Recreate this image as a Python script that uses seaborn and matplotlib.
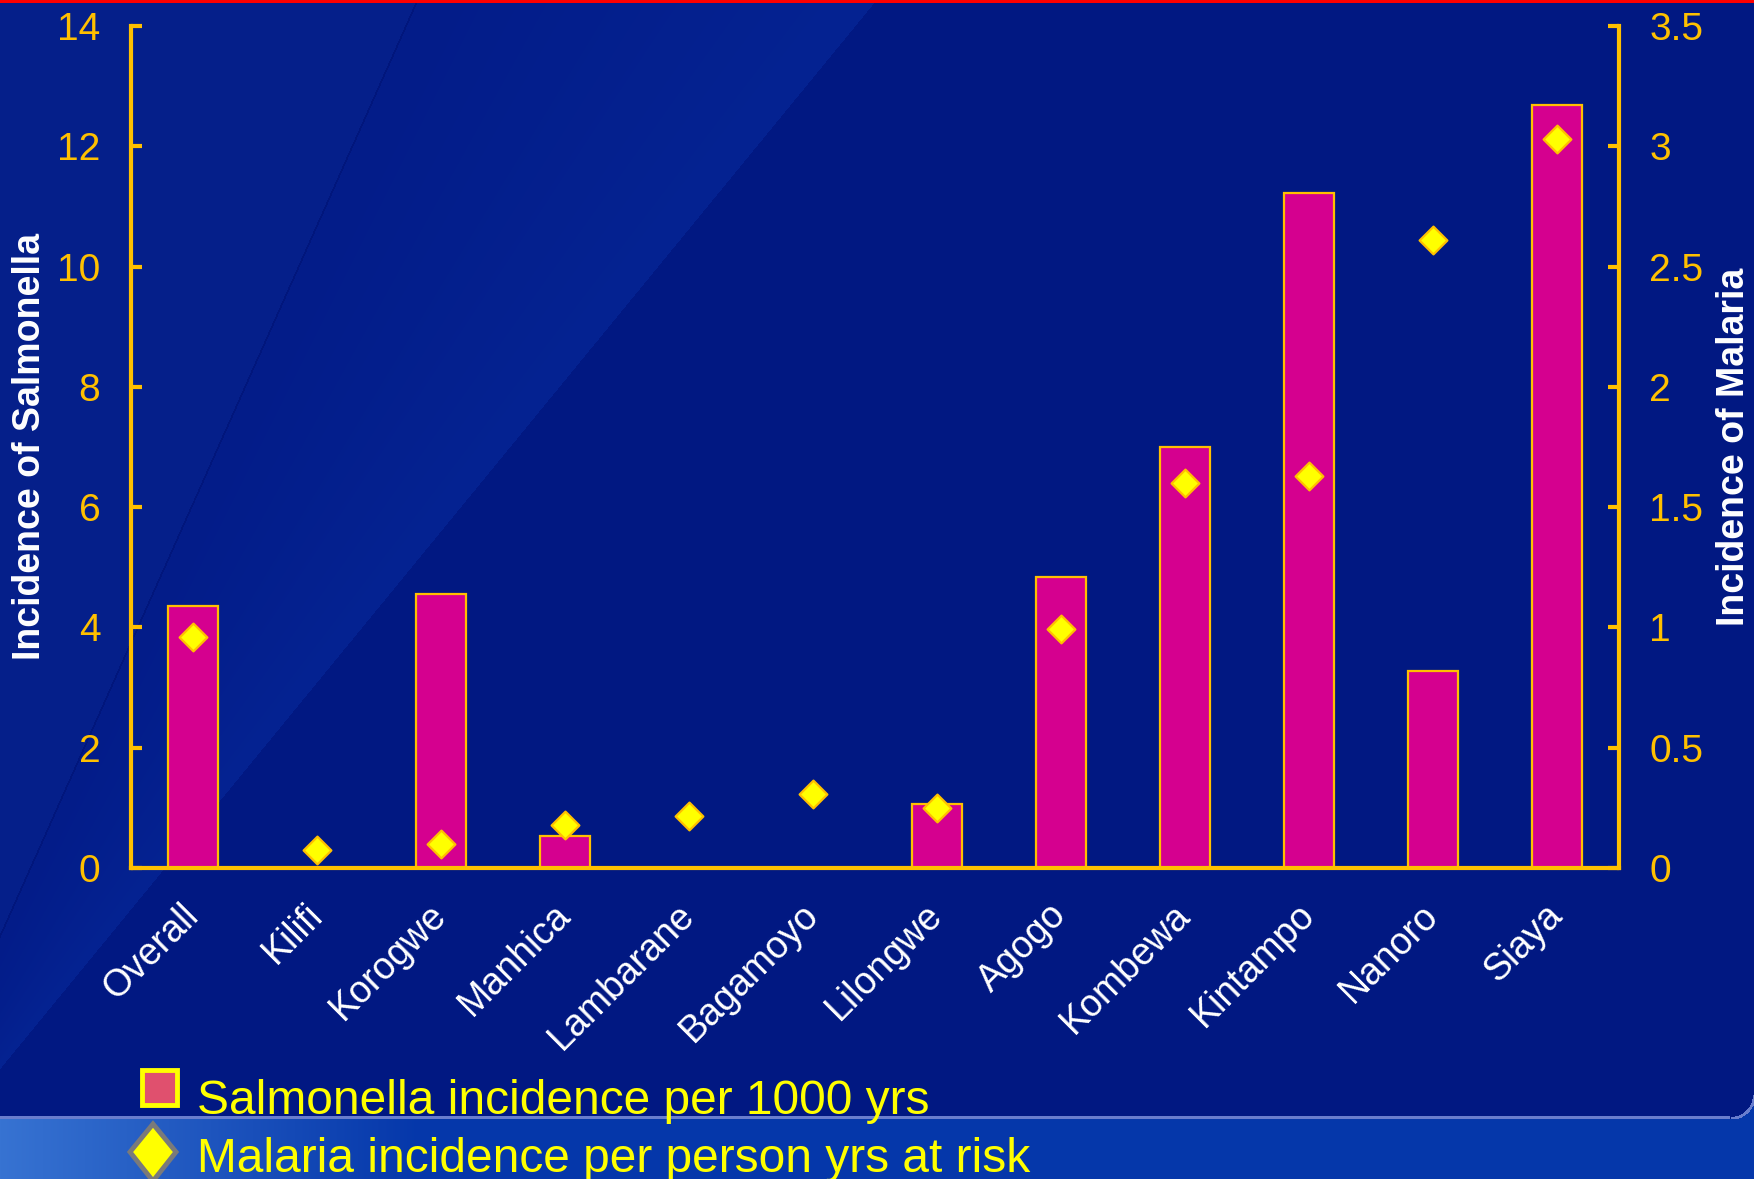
import numpy as np
import matplotlib
matplotlib.use("Agg")
import matplotlib.pyplot as plt
import seaborn as sns
from matplotlib.patches import Rectangle, Polygon

# ---- data -------------------------------------------------------------
sites = ["Overall", "Kilifi", "Korogwe", "Manhica", "Lambarane", "Bagamoyo",
         "Lilongwe", "Agogo", "Kombewa", "Kintampo", "Nanoro", "Siaya"]
salmonella = [4.35, 0.0, 4.55, 0.54, 0.0, 0.0, 1.06, 4.83, 7.0, 11.23, 3.27, 12.69]
malaria = [0.96, 0.074, 0.098, 0.177, 0.214, 0.307, 0.251, 0.995, 1.60, 1.63, 2.61, 3.03]

left_ticks = [0, 2, 4, 6, 8, 10, 12, 14]
right_ticks = [0, 0.5, 1, 1.5, 2, 2.5, 3, 3.5]
right_tick_labels = ["0", "0.5", "1", "1.5", "2", "2.5", "3", "3.5"]

left_title = "Incidence of Salmonella"
right_title = "Incidence of Malaria"
legend_labels = ["Salmonella incidence per 1000 yrs",
                 "Malaria incidence per person yrs at risk"]

# ---- style ------------------------------------------------------------
GOLD = "#FFC000"
MAGENTA = "#D5008F"
YELLOW = "#FFFF00"
W, H = 1754, 1179
DPI = 100

sns.set_theme(style="white")
plt.rcParams["font.family"] = ["Liberation Sans", "DejaVu Sans"]

fig = plt.figure(figsize=(W / DPI, H / DPI), dpi=DPI)

# ---- slide background ---------------------------------------------------
yy, xx = np.mgrid[0:H, 0:W].astype(float)
bg = np.empty((H, W, 3))
bg[:] = np.array([1, 24, 130]) / 255.0
x_a = 417 - 0.446 * yy          # first diagonal streak
x_b = 876 - 0.82 * yy           # second diagonal streak
left_zone = xx < x_a
band = (xx >= x_a) & (xx < x_b)
bg[left_zone] = np.array([5, 31, 138]) / 255.0
# band: slightly lighter, brightest next to its right edge
frac = np.clip((xx - x_a) / np.maximum(x_b - x_a, 1), 0, 1)
band_col = (np.array([3, 28, 137]) / 255.0) * (1 - frac[..., None]) + \
           (np.array([5, 35, 146]) / 255.0) * frac[..., None]
bg[band] = band_col[band]
streak = np.abs(xx - x_a) < 1.0
bg[streak] = np.array([1, 22, 124]) / 255.0
# lower ribbon
ribbon = yy >= 1119
t = np.clip(xx / 420.0, 0, 1)[..., None]
light = np.array([55, 115, 210]) / 255.0
mid = np.array([5, 55, 170]) / 255.0
ribbon_col = light * (1 - t) + mid * t
bg[ribbon] = ribbon_col[ribbon]
sep = (yy >= 1116) & (yy < 1119) & (xx < W - 24)
bg[sep] = np.array([105, 125, 205]) / 255.0
# rounded corner where the dark panel meets the ribbon on the right
r = 24.0
cx, cy = W - r, 1118 - r
corner = (xx > cx) & (yy > cy) & (yy < 1119)
dist = np.hypot(xx - cx, yy - cy)
bg[corner & (dist > r + 1.5)] = mid
bg[corner & (np.abs(dist - r) <= 1.5)] = np.array([105, 125, 205]) / 255.0
bg[yy < 2.5] = np.array([255, 0, 0]) / 255.0

bg_ax = fig.add_axes([0, 0, 1, 1], zorder=0)
bg_ax.imshow(bg, extent=(0, W, H, 0), aspect="auto", interpolation="bilinear")
bg_ax.set_xlim(0, W)
bg_ax.set_ylim(H, 0)
bg_ax.axis("off")

# ---- chart ---------------------------------------------------------------
ax = fig.add_axes([0.0747, 0.2638, 0.8483, 0.7142], zorder=2)
ax.set_facecolor("none")

sns.barplot(x=sites, y=salmonella, ax=ax, color=MAGENTA, saturation=1,
            width=0.4, edgecolor=GOLD, linewidth=1.6, zorder=2)
ax.set_ylim(0, 14)
ax.set_yticks(left_ticks)
ax.set_xlabel("")

ax2 = ax.twinx()
ax2.set_zorder(3)
sns.scatterplot(x=np.arange(len(sites)), y=malaria, ax=ax2, marker="D",
                s=200, color=YELLOW, edgecolor=GOLD, linewidth=1.6,
                legend=False, zorder=4)
ax2.set_ylim(0, 3.5)
ax2.set_yticks(right_ticks)
ax2.set_yticklabels(right_tick_labels)
ax.set_xlim(-0.5, len(sites) - 0.5)

# spines
for sp in ["top", "right"]:
    ax.spines[sp].set_visible(False)
for sp in ["left", "bottom"]:
    ax.spines[sp].set_color(GOLD)
    ax.spines[sp].set_linewidth(3)
for sp in ["top", "left", "bottom"]:
    ax2.spines[sp].set_visible(False)
ax2.spines["right"].set_color(GOLD)
ax2.spines["right"].set_linewidth(3)

# ticks
ax.tick_params(axis="y", direction="in", length=8, width=3, color=GOLD,
               labelcolor=GOLD, labelsize=28, pad=22)
ax2.tick_params(axis="y", direction="in", length=8, width=3, color=GOLD,
                labelcolor=GOLD, labelsize=28, pad=22)
ax.set_xticks(range(len(sites)))
ax.set_xticklabels(sites, rotation=45, ha="right", va="center",
                   rotation_mode="anchor", color="white", fontsize=27)
ax.tick_params(axis="x", which="major", length=0, pad=30)
ax.set_xticks(np.arange(0.5, len(sites) - 1, 1.0), minor=True)
ax.tick_params(axis="x", which="minor", direction="in", length=8, width=3,
               color=GOLD)

ax.set_ylabel(left_title, color="white", fontsize=27, fontweight="bold")
ax.yaxis.set_label_coords(-0.056, 0.5)
ax2.set_ylabel(right_title, color="white", fontsize=27, fontweight="bold",
               rotation=90)
ax2.yaxis.set_label_coords(1.0655, 0.5)

# ---- legend ---------------------------------------------------------------
ov = fig.add_axes([0, 0, 1, 1], zorder=5)
ov.set_xlim(0, W)
ov.set_ylim(H, 0)
ov.axis("off")
ov.add_patch(Rectangle((142, 1070), 35, 35, facecolor="#E0506E",
                       edgecolor=YELLOW, linewidth=3.5))
ov.add_patch(Polygon([(153, 1124), (176, 1152), (153, 1181), (130, 1152)],
                     closed=True, facecolor=YELLOW, edgecolor="#7A7A7A",
                     linewidth=3.5, clip_on=False))
ov.text(197, 1114, legend_labels[0], color=YELLOW, fontsize=34.5,
        va="baseline", ha="left")
ov.text(197, 1172, legend_labels[1], color=YELLOW, fontsize=34.5,
        va="baseline", ha="left")

fig.savefig("out.png", dpi=DPI)
